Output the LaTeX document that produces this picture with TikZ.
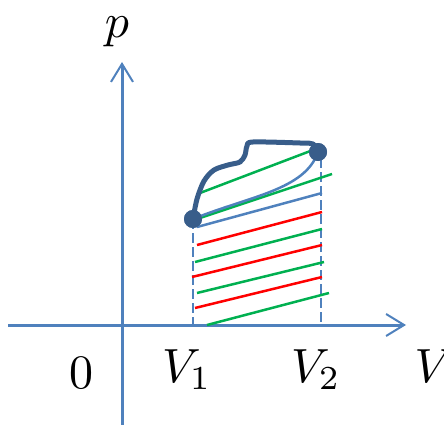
\documentclass[tikz,border=0pt]{standalone}
\usetikzlibrary{arrows.meta}
\definecolor{axisblue}{RGB}{79,129,189}
\definecolor{darkblue}{RGB}{56,93,138}
\definecolor{hgreen}{RGB}{0,176,80}
\definecolor{hred}{RGB}{255,0,0}
\tikzset{
  axisline/.style={draw=axisblue,line width=3pt,-{Straight Barb[length=18pt,width=22pt,line width=2pt]}},
  dashv/.style={draw=axisblue,line width=2.5pt,dash pattern=on 10pt off 4pt},
  hatchg/.style={draw=hgreen,line width=2.5pt},
  hatchr/.style={draw=hred,line width=2.5pt},
  thinblue/.style={draw=axisblue,line width=2.5pt},
  curve/.style={draw=darkblue,line width=5pt,line join=round,line cap=round},
  dot/.style={circle,fill=darkblue,inner sep=0pt,minimum size=18pt},
  lbl/.style={inner sep=0pt,scale=4.8}
}
\begin{document}
\begin{tikzpicture}[x=1pt,y=-1pt]
\useasboundingbox (0,0) rectangle (444,425);
% axes
\coordinate (xs) at (8,325);
\coordinate (xe) at (406,325);
\coordinate (ys) at (122,425);
\coordinate (ye) at (122,62);
\draw[axisline] (xs) -- (xe);
\draw[axisline] (ys) -- (ye);
% points
\node[dot] (A) at (193,219) {};
\node[dot] (B) at (318,152) {};
\coordinate (Ab) at (193,325);
\coordinate (Bb) at (321,325);
\coordinate (Bt) at (321,158);
\draw[dashv] (A.center) -- (Ab);
\draw[dashv] (Bt) -- (Bb);
% hatch lines
\draw[hatchg] (200,193) -- (313,150);
\draw[hatchg] (197,219) -- (332,174);
\draw[hatchr] (197,245) -- (322,212);
\draw[hatchg] (195,262) -- (322,229);
\draw[hatchr] (192,277) -- (322,245);
\draw[hatchg] (197,293) -- (324,262);
\draw[hatchr] (195,308) -- (322,277);
\draw[hatchg] (207,325) -- (329,293);
% thin blue return paths
\draw[thinblue] (A.center) .. controls (250,196) and (305,190) .. (B.center);
\draw[thinblue] (197,227) -- (322,193);
% main curve
\draw[curve] plot[smooth,tension=0.5] coordinates {(193,219) (197,199) (204,181) (214,170) (228,165) (240,162) (245,155) (247,146) (253,142) (300,143) (313,144) (318,152)};
\node[dot] at (A) {};
\node[dot] at (B) {};
% labels
\node[lbl,anchor=base] (lp) at (117,38) {$p$};
\node[lbl,anchor=base] (l0) at (81,388) {$0$};
\node[lbl,anchor=base] (l1) at (187,382) {$V_1$};
\node[lbl,anchor=base] (l2) at (316,382) {$V_2$};
\node[lbl,anchor=base] (lv) at (434,382) {$V$};
\end{tikzpicture}
\end{document}
